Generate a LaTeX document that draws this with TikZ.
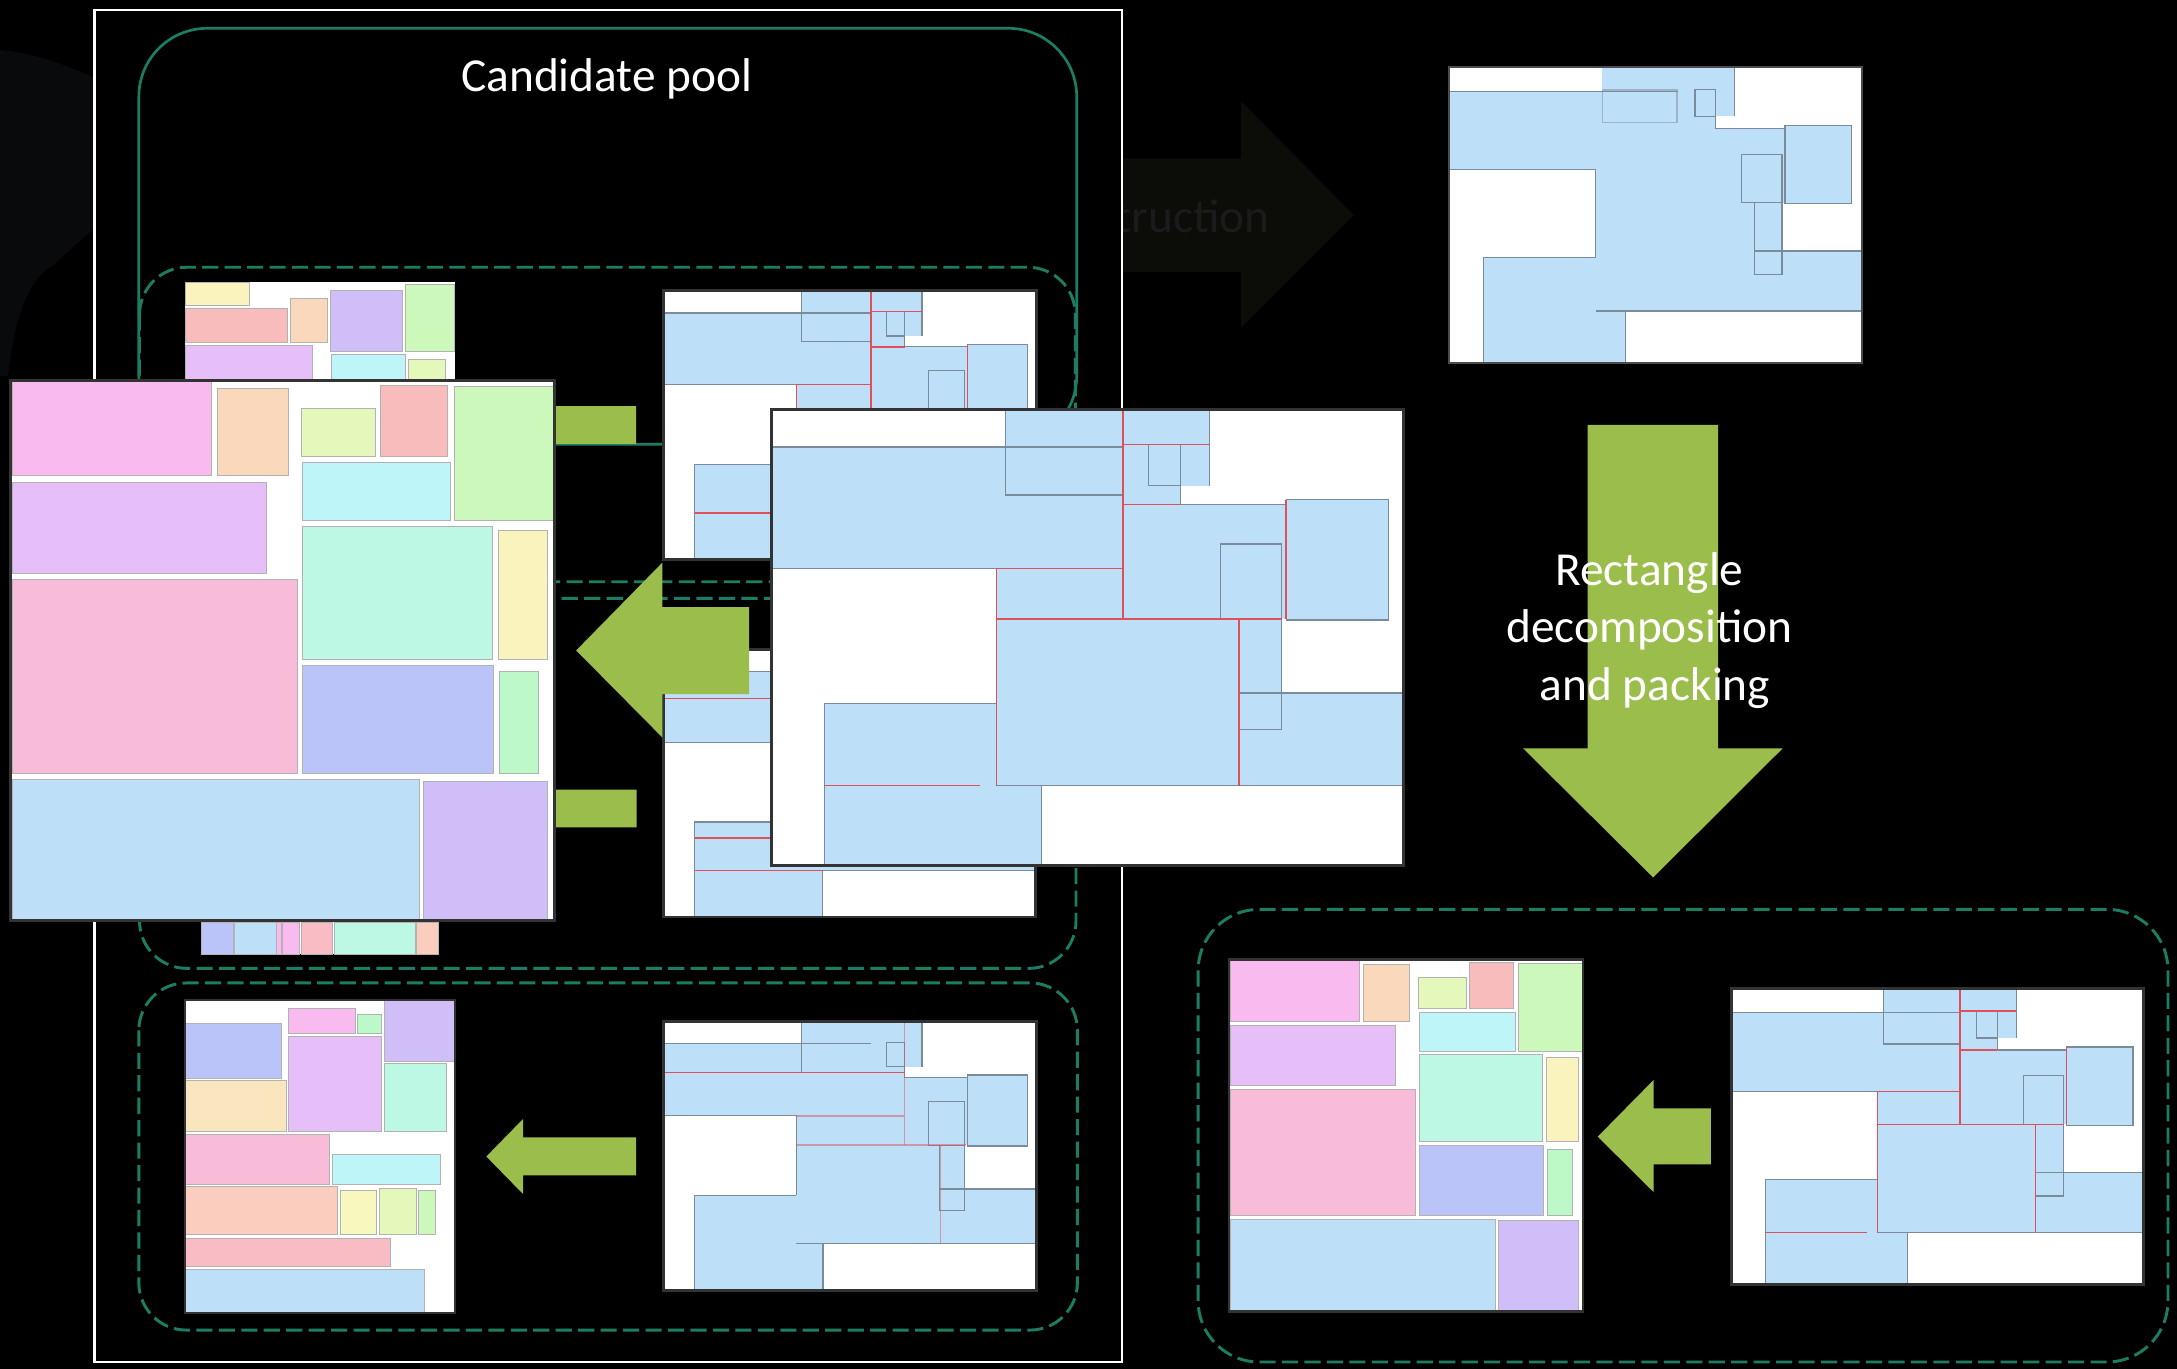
\documentclass[tikz,border=0pt]{standalone}
\usepackage{fontspec}
\setmainfont{Carlito}
\begin{document}
\definecolor{teal1}{HTML}{1B7D64}
\definecolor{arrowgreen}{HTML}{9BBD4C}
\definecolor{cellblue}{HTML}{BDDFF8}
\definecolor{outlgray}{HTML}{7A8B9C}
\definecolor{cutred}{HTML}{E0505A}
\definecolor{cMag}{HTML}{F9BAF0}
\definecolor{cPeach}{HTML}{F9D8BC}
\definecolor{cLime}{HTML}{E4F8BC}
\definecolor{cSalmon}{HTML}{F9BCBC}
\definecolor{cGreen}{HTML}{CDF8BC}
\definecolor{cCyan}{HTML}{BDF5F8}
\definecolor{cViolet}{HTML}{E6BEF8}
\definecolor{cMint}{HTML}{BDF8E4}
\definecolor{cYellow}{HTML}{FBF3BE}
\definecolor{cPink}{HTML}{F9BCD8}
\definecolor{cBViolet}{HTML}{BAC4F8}
\definecolor{cGreenB}{HTML}{BDF8C8}
\definecolor{cPurple}{HTML}{D0BEF8}
\definecolor{cTan}{HTML}{FAE6BE}
\definecolor{cPeachB}{HTML}{FACDBE}
\definecolor{cYellowB}{HTML}{F8F8BE}
\definecolor{cRed}{HTML}{F9BCC4}
\definecolor{ghostarrow}{HTML}{0C0D08}
\definecolor{ghosttext}{HTML}{1B1B1D}
\definecolor{ghostblob}{HTML}{090A0B}
% shape made of overlapping rectangles, local size 455.4 x 328.4
\newcommand\ShpFill{%
 \fill[cellblue] (168.4,0) rectangle (315.2,27.2);
 \fill[cellblue] (0,27.2) rectangle (253.2,114.6);
 \fill[cellblue] (253.2,0) rectangle (315.2,55.2);
 \fill[cellblue] (253.2,55.2) rectangle (294.3,68.5);
 \fill[cellblue] (253.2,68.5) rectangle (370.6,151.2);
 \fill[cellblue] (370.6,65.3) rectangle (444.3,151.9);
 \fill[cellblue] (161.8,114.6) rectangle (336.7,271.1);
 \fill[cellblue] (336.7,151.2) rectangle (367.3,204.5);
 \fill[cellblue] (336.7,204.5) rectangle (455.4,271.1);
 \fill[cellblue] (37.9,211.9) rectangle (161.8,271.1);
 \fill[cellblue] (37.9,271.1) rectangle (194.5,328.4);
}
\newcommand\ShpLines{%
 \draw[outl] (0,27.2) -- (253.2,27.2);
 \draw[outl] (315.2,0) -- (315.2,55.2);
 \draw[outl] (294.3,55.2) -- (294.3,68.5) -- (370.6,68.5);
 \draw[outl] (370.6,65.3) rectangle (444.3,151.9);
 \draw[outl] (323,97.1) rectangle (367.3,151.2);
 \draw[outl] (336.7,151.2) rectangle (367.3,230.6);
 \draw[outl] (336.7,204.5) -- (455.4,204.5);
 \draw[outl] (0,114.6) -- (161.8,114.6) -- (161.8,211.9);
 \draw[outl] (37.9,328.4) -- (37.9,211.9) -- (161.8,211.9);
 \draw[outl] (161.8,271.1) -- (455.4,271.1);
 \draw[outl] (194.5,271.1) -- (194.5,328.4);
 \draw[outl] (271.5,25.4) rectangle (294.3,55.2);
}
\newcommand\TopBox{%
 \draw[outl] (168.4,0) -- (168.4,61.9) -- (253.2,61.9);
}
% decomposition cuts
\newcommand\CutsMain{%
 \draw[cut] (253.2,25.4) -- (315.2,25.4);
 \draw[cut] (253.2,0) -- (253.2,151.2);
 \draw[cut] (253.2,68.5) -- (294.3,68.5);
 \draw[cut] (161.8,114.6) -- (253.2,114.6);
 \draw[cut] (161.8,151.2) -- (367.3,151.2);
 \draw[cut] (161.8,114.6) -- (161.8,271.1);
 \draw[cut] (336.7,151.2) -- (336.7,271.1);
 \draw[cut] (370.6,65.3) -- (370.6,151.2);
 \draw[cut] (37.9,271.1) -- (150,271.1);
}
\newcommand\CutsLow{%
 \draw[cut] (0,61.9) -- (293.6,61.9);
 \draw[cut,opacity=0.5] (293.6,0) -- (293.6,150.6);
 \draw[cut,opacity=0.5] (161.7,150.6) -- (368.3,150.6);
 \draw[cut,opacity=0.5] (161.7,115.2) -- (293.6,115.2);
 \draw[cut,opacity=0.5] (337.5,150.6) -- (337.5,270);
}
\newcommand\CutsMid{%
 \draw[cut] (0,60.7) -- (253.2,60.7);
 \draw[cut] (37.9,231.3) -- (161.8,231.3);
 \draw[cut] (37.9,271.6) -- (194.5,271.6);
}
\newcommand\ShpFrame{%
 \fill[white] (0,0) rectangle (455.4,328.4);
}
\newcommand\ShpBorder{%
 \draw[frame] (0,0) rectangle (455.4,328.4);
}
% packed layout, local size 391.5 x 389
\newcommand\PackMain{%
 \fill[white] (0,0) rectangle (391.5,389);
 \filldraw[cell,fill=cMag] (1.2,0.8) rectangle (144.2,68.7);
 \filldraw[cell,fill=cPeach] (148.8,5.8) rectangle (199.7,68.7);
 \filldraw[cell,fill=cLime] (209.4,20.2) rectangle (262.3,54.6);
 \filldraw[cell,fill=cSalmon] (266.2,3.7) rectangle (314.5,54.6);
 \filldraw[cell,fill=cGreen] (319.7,4.2) rectangle (391.5,101.2);
 \filldraw[cell,fill=cCyan] (210.1,58.9) rectangle (316.4,101.2);
 \filldraw[cell,fill=cViolet] (1.2,73.2) rectangle (184,139.3);
 \filldraw[cell,fill=cMint] (210.1,105.5) rectangle (347.1,201.2);
 \filldraw[cell,fill=cYellow] (351,108.4) rectangle (386.2,201.2);
 \filldraw[cell,fill=cPink] (1.2,143.6) rectangle (206.2,283);
 \filldraw[cell,fill=cBViolet] (210.1,205.4) rectangle (347.8,283);
 \filldraw[cell,fill=cGreenB] (352.3,209.7) rectangle (379.7,283);
 \filldraw[cell,fill=cellblue] (1.2,287.3) rectangle (294.2,388.2);
 \filldraw[cell,fill=cPurple] (297.5,288.8) rectangle (386.2,388.2);
 \draw[frame] (0,0) rectangle (391.5,389);
}
\begin{tikzpicture}[x=0.01cm,y=-0.01cm,
  outl/.style={draw=outlgray,line width=0.25pt},
  cut/.style={draw=cutred,line width=0.3pt},
  frame/.style={draw=black!80,line width=0.6pt},
  cell/.style={draw=black!30,line width=0.2pt},
  poolline/.style={draw=teal1,line width=0.55pt},
  pairbox/.style={draw=teal1,line width=0.6pt,dash pattern=on 3.3pt off 1.3pt,rounded corners=9.7pt},
  greenarrow/.style={fill=arrowgreen},
  label/.style={text=white,font=\fontsize{9.7pt}{11.8pt}\selectfont,inner sep=0pt,align=center}]
\useasboundingbox (0,0) rectangle (1568,986);
\fill[black] (0,0) rectangle (1568,986);

% dim textured blob at the far left
\fill[ghostblob] (0,36) .. controls (25,38) and (50,48) .. (68,56) -- (68,165)
  .. controls (55,175) and (45,185) .. (40,190) .. controls (20,200) and (10,230) .. (6,271) -- (0,271) -- cycle;

% dim arrow behind the pool frame
\fill[ghostarrow] (700,114) -- (894,114) -- (894,73) -- (975,155) -- (894,236) -- (894,196) -- (700,196) -- cycle;
\node[label,text=ghosttext,anchor=east] (ghostlabel) at (915,156) {Reconstruction};

% candidate pool frame
\filldraw[draw=white,line width=0.5pt,fill=black] (68,7.2) rectangle (808,981);
\draw[poolline,rounded corners=14pt] (100,20.4) rectangle (775.5,320);
\node[label] (pool) at (437,57) {Candidate pool};

% candidate pairs
\draw[pairbox] (100.5,192.5) rectangle (774.5,419);
\draw[pairbox] (100.5,431) rectangle (775,697.5);
\draw[pairbox] (100,708) rectangle (776,958);

% pair A: packing
\fill[white] (133.4,203.4) rectangle (327.5,428);
\filldraw[cell,fill=cYellow] (133.4,203.4) rectangle (179.6,220.4);
\filldraw[cell,fill=cSalmon] (133.4,222.1) rectangle (207.1,246.8);
\filldraw[cell,fill=cPeach] (209.2,214.9) rectangle (235.6,246.8);
\filldraw[cell,fill=cPurple] (238.2,209.4) rectangle (289.6,253.3);
\filldraw[cell,fill=cGreen] (291.7,204.6) rectangle (327.5,253.3);
\filldraw[cell,fill=cViolet] (133.4,249) rectangle (225.2,290);
\filldraw[cell,fill=cCyan] (238.7,255.2) rectangle (292.2,290);
\filldraw[cell,fill=cLime] (294.3,259) rectangle (320.7,290);
% pair A: decomposed shape
\begin{scope}[shift={(478,209.4)},xscale=0.5903,yscale=0.5903]
 \ShpFrame \ShpFill \ShpLines \TopBox \CutsMain \ShpBorder
\end{scope}

% pair B: packing (lower edge)
\fill[white] (144.8,600) rectangle (316,687.3);
\filldraw[cell,fill=cBViolet] (144.8,664.3) rectangle (168.2,687.3);
\filldraw[cell,fill=cellblue] (169.2,664.3) rectangle (199.3,687.3);
\filldraw[cell,fill=cMag] (199.3,664.3) rectangle (202.4,687.3);
\filldraw[cell,fill=cMag] (203.4,664.3) rectangle (215.9,687.3);
\filldraw[cell,fill=cRed] (217,664.3) rectangle (239.8,687.3);
\filldraw[cell,fill=cMint] (240.8,664.3) rectangle (299,687.3);
\filldraw[cell,fill=cPeachB] (300,664.3) rectangle (316,687.3);
% pair B: decomposed shape
\begin{scope}[shift={(478,467.5)},xscale=0.5885,yscale=0.5877]
 \ShpFrame \ShpFill \ShpLines \TopBox \CutsMid \ShpBorder
\end{scope}

% pair C: packing
\fill[white] (133.4,720.2) rectangle (327.5,945.4);
\filldraw[cell,fill=cBViolet] (133.4,737) rectangle (202.4,776.7);
\filldraw[cell,fill=cMag] (208.1,726.7) rectangle (255.9,744.2);
\filldraw[cell,fill=cGreenB] (257.4,730.6) rectangle (275.1,744.2);
\filldraw[cell,fill=cPurple] (277.1,720.2) rectangle (327.5,764.2);
\filldraw[cell,fill=cViolet] (208.1,746.4) rectangle (275.1,815.1);
\filldraw[cell,fill=cMint] (277.1,766.3) rectangle (321.8,815.1);
\filldraw[cell,fill=cTan] (133.4,778.6) rectangle (206.6,815.1);
\filldraw[cell,fill=cPink] (133.4,817) rectangle (237.2,853.5);
\filldraw[cell,fill=cCyan] (239.3,831.4) rectangle (317.1,853);
\filldraw[cell,fill=cPeachB] (133.4,854.7) rectangle (242.9,889.5);
\filldraw[cell,fill=cYellowB] (245.5,857.8) rectangle (271.4,889.5);
\filldraw[cell,fill=cLime] (273.5,856.1) rectangle (300,889.5);
\filldraw[cell,fill=cGreen] (301.5,857.8) rectangle (314,889.5);
\filldraw[cell,fill=cRed] (133.4,891.9) rectangle (281.3,912.3);
\filldraw[cell,fill=cellblue] (133.4,914.2) rectangle (305.7,945.4);
\draw[draw=black!80,line width=0.4pt] (133.4,720.2) rectangle (327.5,945.4);
% pair C: decomposed shape
\begin{scope}[shift={(478,735.8)},xscale=0.5903,yscale=0.5901]
 \ShpFrame \ShpFill \ShpLines \TopBox \CutsLow \ShpBorder
\end{scope}

% arrows from each shape to its packing
\fill[greenarrow] (458.2,292.6) -- (376.7,292.6) -- (376.7,279.4) -- (350.3,306.2) -- (376.7,333) -- (376.7,319.8) -- (458.2,319.8) -- cycle;
\fill[greenarrow] (458.6,568.7) -- (376.7,568.7) -- (376.7,555.5) -- (350.3,582.3) -- (376.7,609.1) -- (376.7,595.9) -- (458.6,595.9) -- cycle;
\fill[greenarrow] (458.2,819.2) -- (376.7,819.2) -- (376.7,806) -- (350.3,833) -- (376.7,860) -- (376.7,846.5) -- (458.2,846.5) -- cycle;
\fill[greenarrow] (539.5,437.3) -- (477,437.3) -- (477,405.3) -- (415,468.5) -- (477,531.1) -- (477,500) -- (539.5,500) -- cycle;

% enlarged packing
\begin{scope}[shift={(7.8,274)}]
 \PackMain
\end{scope}

% enlarged decomposed shape
\begin{scope}[shift={(555.8,294.7)}]
 \ShpFrame \ShpFill \ShpLines \TopBox \CutsMain \ShpBorder
\end{scope}

% reconstructed shape (top right)
\begin{scope}[shift={(1043.6,48)},xscale=0.653,yscale=0.649]
 \ShpFrame \ShpFill \ShpLines
 \draw[outl,opacity=0.5] (169,25.9) rectangle (251.5,61.8);
 \draw[outl] (337.2,204.1) rectangle (367.5,231.1);
 \draw[draw=black!70,line width=0.4pt] (0,0) rectangle (455.4,328.4);
\end{scope}

% downward arrow with its label
\fill[greenarrow] (1143.5,306) -- (1237.4,306) -- (1237.4,539) -- (1284,539) -- (1190.7,632) -- (1097,539) -- (1143.5,539) -- cycle;
\node[label] (step1) at (1188,413) {Rectangle};
\node[label] (step2) at (1188,454) {decomposition};
\node[label] (step3) at (1192,496) {and packing};

% result pair
\draw[pairbox,rounded corners=12.5pt] (863,655) rectangle (1561.5,981);
\begin{scope}[shift={(885.2,691)},xscale=0.6513,yscale=0.6522]
 \PackMain
\end{scope}
\begin{scope}[shift={(1246.9,711.8)},xscale=0.6515,yscale=0.649]
 \ShpFrame \ShpFill \ShpLines \TopBox \CutsMain \ShpBorder
\end{scope}
\fill[greenarrow] (1232.2,798.3) -- (1191,798.3) -- (1191,777.9) -- (1150.8,818.7) -- (1191,858.6) -- (1191,838.6) -- (1232.2,838.6) -- cycle;
\end{tikzpicture}
\end{document}
